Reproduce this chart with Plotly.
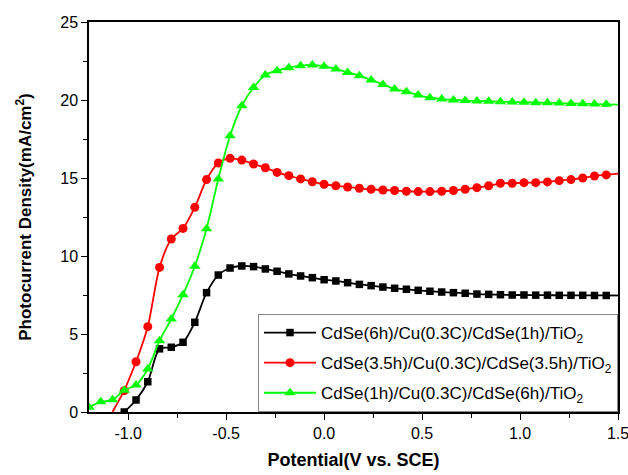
import plotly.graph_objects as go

# ---- data ----
black_x = [-1.02, -0.96, -0.90, -0.84, -0.78, -0.72, -0.66, -0.60, -0.54, -0.48, -0.42, -0.36, -0.30,
           -0.24, -0.18, -0.12, -0.06, 0.00, 0.06, 0.12, 0.18, 0.24, 0.30, 0.36, 0.42, 0.48, 0.54,
           0.60, 0.66, 0.72, 0.78, 0.84, 0.90, 0.96, 1.02, 1.08, 1.14, 1.20, 1.26, 1.32, 1.38, 1.44]
black_y = [0.0, 0.77, 1.94, 4.05, 4.15, 4.47, 5.75, 7.65, 8.78, 9.23, 9.36, 9.32, 9.17,
           9.02, 8.85, 8.72, 8.61, 8.48, 8.40, 8.29, 8.18, 8.10, 8.01, 7.93, 7.87, 7.80, 7.74,
           7.69, 7.65, 7.61, 7.56, 7.54, 7.52, 7.50, 7.50, 7.49, 7.49, 7.48, 7.48, 7.48, 7.47, 7.47]

red_x = [-1.02, -0.96, -0.90, -0.84, -0.78, -0.72, -0.66, -0.60, -0.54, -0.48, -0.42, -0.36, -0.30,
         -0.24, -0.18, -0.12, -0.06, 0.00, 0.06, 0.12, 0.18, 0.24, 0.30, 0.36, 0.42, 0.48, 0.54,
         0.60, 0.66, 0.72, 0.78, 0.84, 0.90, 0.96, 1.02, 1.08, 1.14, 1.20, 1.26, 1.32, 1.38, 1.44]
red_y = [1.37, 3.22, 5.47, 9.27, 11.09, 11.77, 13.12, 14.90, 15.96, 16.26, 16.15, 15.90, 15.66,
         15.36, 15.15, 14.94, 14.76, 14.60, 14.50, 14.42, 14.34, 14.28, 14.23, 14.20, 14.15, 14.13, 14.13,
         14.15, 14.20, 14.28, 14.38, 14.50, 14.66, 14.66, 14.70, 14.70, 14.75, 14.83, 14.90, 15.00, 15.13, 15.20]

green_x = [-1.20, -1.14, -1.08, -1.02, -0.96, -0.90, -0.84, -0.78, -0.72, -0.66, -0.60, -0.54, -0.48,
           -0.42, -0.36, -0.30, -0.24, -0.18, -0.12, -0.06, 0.00, 0.06, 0.12, 0.18, 0.24, 0.30, 0.36,
           0.42, 0.48, 0.54, 0.60, 0.66, 0.72, 0.78, 0.84, 0.90, 0.96, 1.02, 1.08, 1.14, 1.20, 1.26,
           1.32, 1.38, 1.44]
green_y = [0.30, 0.65, 0.78, 1.40, 1.73, 2.76, 4.57, 5.96, 7.52, 9.34, 11.75, 14.94, 17.71,
           19.63, 20.80, 21.60, 21.88, 22.07, 22.20, 22.25, 22.16, 21.99, 21.77, 21.56, 21.28, 21.00, 20.70,
           20.53, 20.32, 20.15, 20.06, 20.00, 19.96, 19.94, 19.92, 19.89, 19.87, 19.85, 19.83, 19.82, 19.80, 19.78,
           19.76, 19.74, 19.72]

# line ends that carry no marker
red_start = (-1.08, 0.0)
black_end = (1.50, 7.47)
red_end = (1.50, 15.28)
green_end = (1.50, 19.70)

names = ["CdSe(6h)/Cu(0.3C)/CdSe(1h)/TiO<sub>2</sub>",
         "CdSe(3.5h)/Cu(0.3C)/CdSe(3.5h)/TiO<sub>2</sub>",
         "CdSe(1h)/Cu(0.3C)/CdSe(6h)/TiO<sub>2</sub>"]

x_tickvals = [-1.0, -0.5, 0.0, 0.5, 1.0, 1.5]
x_ticktext = ["-1.0", "-0.5", "0.0", "0.5", "1.0", "1.5"]
y_tickvals = [0, 5, 10, 15, 20, 25]
y_ticktext = ["0", "5", "10", "15", "20", "25"]

FONT = "Liberation Sans, Arial, sans-serif"

fig = go.Figure()

series = [
    (black_x, black_y, "#000000", "square", 7.5, names[0], None, black_end),
    (red_x, red_y, "#ff0000", "circle", 9, names[1], red_start, red_end),
    (green_x, green_y, "#00ff00", "triangle-up", 10, names[2], None, green_end),
]

for i, (xs, ys, col, sym, msz, nm, start, end) in enumerate(series):
    grp = f"g{i}"
    if start is not None:
        fig.add_trace(go.Scatter(x=[start[0], xs[0]], y=[start[1], ys[0]], mode="lines",
                                 line=dict(color=col, width=1.8), showlegend=False,
                                 legendgroup=grp, hoverinfo="skip"))
    if end is not None:
        fig.add_trace(go.Scatter(x=[xs[-1], end[0]], y=[ys[-1], end[1]], mode="lines",
                                 line=dict(color=col, width=1.8), showlegend=False,
                                 legendgroup=grp, hoverinfo="skip"))
    fig.add_trace(go.Scatter(x=xs, y=ys, mode="lines+markers", name=nm, legendgroup=grp,
                             line=dict(color=col, width=1.8, shape="spline", smoothing=0.8),
                             marker=dict(symbol=sym, size=msz, color=col, line=dict(width=0))))

axis_common = dict(showline=True, linecolor="black", linewidth=1.5, mirror=True,
                   ticks="outside", ticklen=6, tickwidth=1.3, tickcolor="black",
                   showgrid=False, zeroline=False, ticklabeloverflow="allow",
                   tickfont=dict(family=FONT, size=16, color="black"))

fig.update_xaxes(range=[-1.2, 1.5], tickvals=x_tickvals, ticktext=x_ticktext,
                 minor=dict(ticks="outside", ticklen=4, dtick=0.25, tick0=0, tickcolor="black", tickwidth=1.2),
                 title=dict(text="Potential(V vs. SCE)", font=dict(family=FONT, size=18, color="black",
                            weight="bold"), standoff=12),
                 **axis_common)
fig.update_yaxes(range=[0, 25], tickvals=y_tickvals, ticktext=y_ticktext,
                 minor=dict(ticks="outside", ticklen=4, dtick=2.5, tick0=0, tickcolor="black", tickwidth=1.2),
                 title=dict(text="Photocurrent Density(mA/cm<sup>2</sup>)",
                            font=dict(family=FONT, size=17, color="black", weight="bold"), standoff=24),
                 **axis_common)

fig.update_layout(
    width=628, height=475,
    margin=dict(l=89, r=10, t=22, b=63, autoexpand=False),
    paper_bgcolor="white", plot_bgcolor="white",
    font=dict(family=FONT, color="black"),
    legend=dict(x=1, y=0, xanchor="right", yanchor="bottom",
                bgcolor="white", bordercolor="#888888", borderwidth=1,
                font=dict(family=FONT, size=17, color="black"),
                itemwidth=52, tracegroupgap=5, traceorder="grouped"),
)

fig.write_html("out.html")
